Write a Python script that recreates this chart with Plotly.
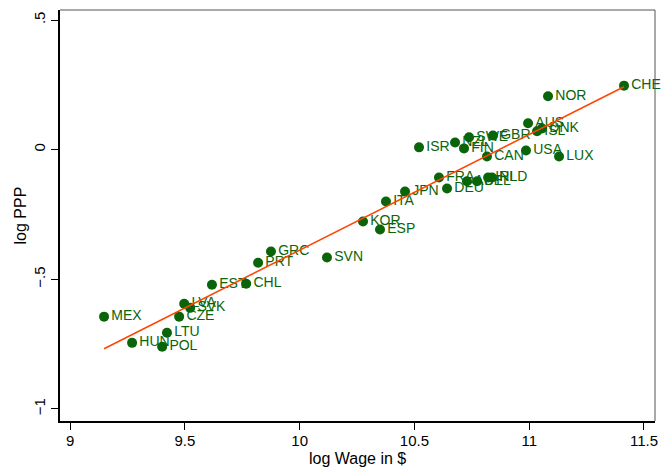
import numpy as np
import plotly.graph_objects as go

countries = ["CHE","NOR","AUS","DNK","ISL","USA","LUX","GBR","SWE","NZL","FIN","CAN","ISR",
             "FRA","DEU","AUT","BEL","IRL","NLD","JPN","ITA","KOR","ESP","GRC","PRT","SVN",
             "EST","CHL","MEX","LVA","SVK","CZE","LTU","HUN","POL"]
log_wage = [11.413,11.082,10.995,11.056,11.034,10.986,11.130,10.842,10.738,10.677,10.716,10.816,10.520,
            10.607,10.642,10.729,10.773,10.821,10.838,10.459,10.376,10.276,10.350,9.875,9.819,10.119,
            9.618,9.767,9.148,9.497,9.523,9.475,9.422,9.270,9.401]
log_ppp = [0.247,0.206,0.102,0.082,0.071,-0.003,-0.026,0.055,0.048,0.028,0.005,-0.026,0.009,
           -0.107,-0.150,-0.122,-0.122,-0.107,-0.107,-0.161,-0.200,-0.277,-0.308,-0.393,-0.436,-0.416,
           -0.521,-0.517,-0.644,-0.594,-0.610,-0.644,-0.706,-0.745,-0.760]

x_ticks = [9, 9.5, 10, 10.5, 11, 11.5]
x_tick_labels = ["9", "9.5", "10", "10.5", "11", "11.5"]
y_ticks = [-1, -0.5, 0, 0.5]
y_tick_labels = ["\u22121", "\u2212.5", "0", ".5"]
x_title = "log Wage in $"
y_title = "log PPP"

xa = np.array(log_wage)
ya = np.array(log_ppp)
b, a = np.polyfit(xa, ya, 1)
xf = np.array([xa.min(), xa.max()])
yf = a + b * xf

green = "#0a640a"
fig = go.Figure()
fig.add_trace(go.Scatter(
    x=log_wage, y=log_ppp, mode="markers+text", text=countries,
    textposition="middle right",
    marker=dict(color=green, size=10),
    textfont=dict(color=green, size=14, family="Liberation Sans"),
    showlegend=False, cliponaxis=False))
fig.add_trace(go.Scatter(
    x=xf, y=yf, mode="lines", line=dict(color="#FF4500", width=1.5), showlegend=False))

title_font = dict(family="Liberation Sans", size=16, color="black")
fig.update_layout(
    width=662, height=469,
    margin=dict(l=60, r=7, t=10, b=48),
    paper_bgcolor="white", plot_bgcolor="white",
    font=dict(family="Liberation Sans", size=14, color="black"),
    xaxis=dict(range=[8.956, 11.548], tickvals=x_ticks, ticktext=x_tick_labels,
               showgrid=False, zeroline=False, showline=True, linecolor="black", linewidth=1.5,
               ticks="outside", ticklen=7, tickcolor="black", automargin=False,
               ticklabelstandoff=-2, tickfont=dict(size=15)),
    yaxis=dict(range=[-1.0464, 0.5387], tickvals=y_ticks, ticktext=y_tick_labels,
               showgrid=False, zeroline=False, showline=True, linecolor="black", linewidth=1.5,
               ticks="outside", ticklen=7, tickcolor="black", tickangle=-90, automargin=False,
               tickfont=dict(size=15)),
    annotations=[
        dict(text=x_title, xref="paper", yref="paper", x=0.5, y=0, yshift=-37,
             xanchor="center", yanchor="middle", showarrow=False, font=title_font),
        dict(text=y_title, xref="paper", yref="paper", x=0, y=0.5, xshift=-40,
             xanchor="center", yanchor="middle", showarrow=False, textangle=-90,
             font=title_font),
    ],
    shapes=[
        dict(type="line", xref="paper", yref="paper", x0=0, x1=1, y0=1, y1=1,
             line=dict(color="#555555", width=1)),
        dict(type="line", xref="paper", yref="paper", x0=1, x1=1, y0=0, y1=1,
             line=dict(color="#555555", width=1)),
    ],
)
fig.write_html("out.html")
